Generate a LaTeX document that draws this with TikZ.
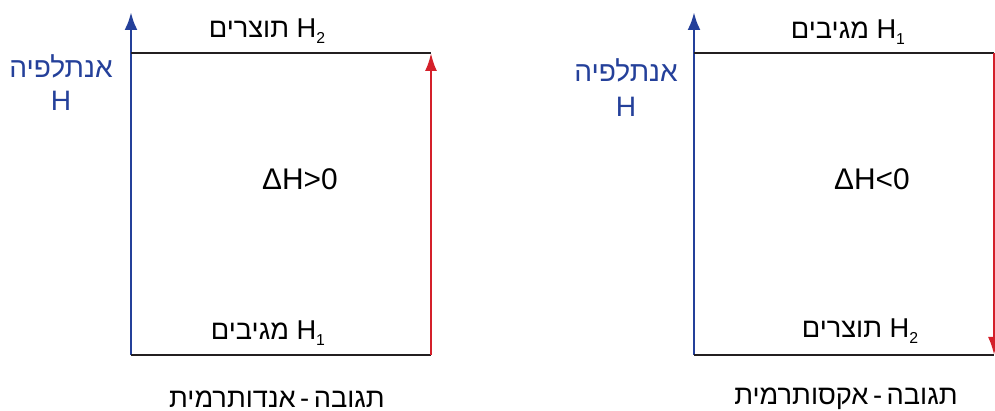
\documentclass[tikz,border=0pt]{standalone}
\usepackage{fontspec}
\setmainfont{Liberation Sans}
\newfontfamily\hebfont[Script=Hebrew]{Liberation Sans}
\TeXXeTstate=1
\usetikzlibrary{positioning,calc,arrows.meta}
\definecolor{axblue}{HTML}{24409A}
\definecolor{dhred}{HTML}{D4202A}
\definecolor{lvlblack}{HTML}{231F20}
\def\Ht#1{\mbox{\beginL H\raisebox{-0.45ex}{\fontsize{9}{10}\selectfont #1}\endL}}
\tikzset{axis/.style={draw=axblue,line width=1.7pt,-{Latex[length=3.6mm,width=2.6mm]}}  }
\tikzset{level/.style={draw=lvlblack,line width=1.6pt}  }
\tikzset{dharrow/.style={draw=dhred,line width=1.4pt,-{Latex[length=3.6mm,width=2.4mm]}}  }
\tikzset{lbl/.style={inner sep=0pt,font=\fontsize{15.5}{18}\selectfont}  }
\tikzset{dhlbl/.style={inner sep=0pt,font=\fontsize{17}{20}\selectfont}  }
\tikzset{ylbl/.style={inner sep=0pt,text=axblue,font=\fontsize{16}{18}\selectfont}  }

\begin{document}
\begin{tikzpicture}[x=0.02cm,y=-0.02cm]
	\useasboundingbox (0,0) rectangle (995,411);
	% endothermic
		\coordinate (o1) at (131,355);
			\coordinate (t1) at (131,12);
			\coordinate (a1) at (131,53);
			\coordinate (b1) at (431,53);
			\coordinate (c1) at (431,355);

			\draw[axis] (o1) -- (t1);
			\draw[level] (a1) -- (b1);
			\draw[level] (o1) -- (c1);
			\draw[dharrow] (c1) -- (b1);

				\node[lbl] (prod1) at (267,31) {\hebfont\beginR\Ht{2} תוצרים\endR};
				\node[lbl] (reac1) at (268,333) {\hebfont\beginR\Ht{1} מגיבים\endR};
				\node[dhlbl] (dh1) at (300,179) {ΔH>0};
				\node[ylbl] (ent1) at (61,66) {\hebfont\beginR אנתלפיה\endR};
				\node[ylbl] (h1) at (61,101) {H};
				\node[lbl] (cap1) at (277,399) {\hebfont\beginR תגובה\,-\,אנדותרמית\endR};
	% exothermic
		\coordinate (o2) at (694,355);
			\coordinate (t2) at (694,12);
			\coordinate (a2) at (694,53);
			\coordinate (b2) at (994,53);
			\coordinate (c2) at (994,355);

			\draw[axis] (o2) -- (t2);
			\draw[level] (a2) -- (b2);
			\draw[level] (o2) -- (c2);
			\draw[dharrow] (b2) -- (c2);

				\node[lbl] (reac2) at (848,32) {\hebfont\beginR\Ht{1} מגיבים\endR};
				\node[lbl] (prod2) at (860,331) {\hebfont\beginR\Ht{2} תוצרים\endR};
				\node[dhlbl] (dh2) at (872,179) {ΔH<0};
				\node[ylbl] (ent2) at (626,70) {\hebfont\beginR אנתלפיה\endR};
				\node[ylbl] (h2) at (626,107) {H};
				\node[lbl] (cap2) at (846,399) {\hebfont\beginR תגובה\,-\,אקסותרמית\endR};
	\end{tikzpicture}
\end{document}
